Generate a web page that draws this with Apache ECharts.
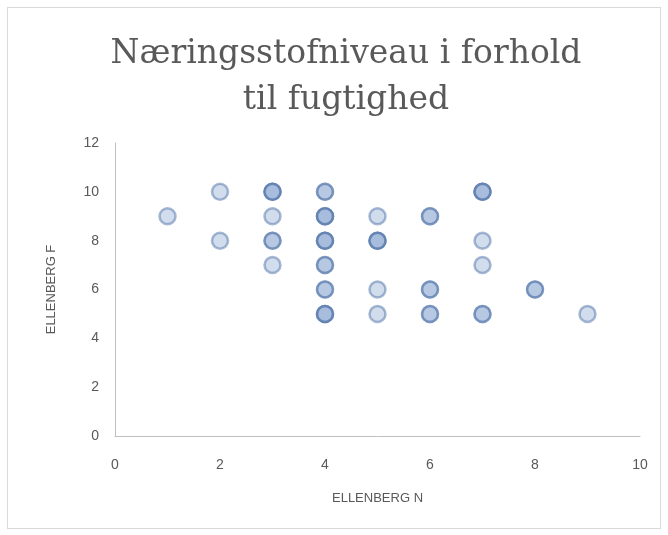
<!DOCTYPE html>
<html>
<head>
<meta charset="utf-8">
<script src="https://cdn.jsdelivr.net/npm/echarts@6/dist/echarts.min.js"></script>
<style>
  html, body { margin: 0; padding: 0; background: #fff; }
  #frame {
     position: absolute; left: 7px; top: 7px;
     width: 654px; height: 522px;
     border: 1px solid #d9d9d9;
     box-sizing: border-box;
  }
  #chart { width: 668px; height: 535px; }
</style>
</head>
<body>
<div id="frame"></div>
<div id="chart"></div>
<script>
// Ellenberg N (x) og Ellenberg F (y) - gentagne punkter ligger oven i hinanden
const ellenbergN = [2, 3, 3, 3, 4, 4, 7, 7, 7,
                    1, 3, 4, 4, 4, 5, 6, 6,
                    2, 3, 3, 4, 4, 4, 5, 5, 5, 7,
                    3, 4, 4, 7,
                    4, 4, 5, 6, 6, 8, 8,
                    4, 4, 4, 5, 6, 6, 7, 7, 9];
const ellenbergF = [10, 10, 10, 10, 10, 10, 10, 10, 10,
                    9, 9, 9, 9, 9, 9, 9, 9,
                    8, 8, 8, 8, 8, 8, 8, 8, 8, 8,
                    7, 7, 7, 7,
                    6, 6, 6, 6, 6, 6, 6,
                    5, 5, 5, 5, 5, 5, 5, 5, 5];
const xTicks = [0, 2, 4, 6, 8, 10];
const yTicks = [0, 2, 4, 6, 8, 10, 12];

const points = ellenbergN.map((x, i) => [x, ellenbergF[i]]);

const chart = echarts.init(document.getElementById('chart'));
chart.setOption({
    animation: false,
    title: {
        text: 'Næringsstofniveau i forhold\ntil fugtighed',
        left: 341,
        textAlign: 'center',
        top: 26,
        textStyle: {
            fontFamily: 'DejaVu Serif',
            fontWeight: 'normal',
            fontSize: 33,
            lineHeight: 46,
            color: '#595959'
        }
    },
    grid: { left: 115, right: 28, top: 143, bottom: 99 },
    xAxis: {
        type: 'value',
        min: xTicks[0], max: xTicks[xTicks.length - 1], interval: 2,
        name: 'ELLENBERG N',
        nameLocation: 'middle',
        nameGap: 56,
        nameTextStyle: { color: '#595959', fontSize: 13, fontFamily: 'Liberation Sans' },
        axisLine: { lineStyle: { color: '#bfbfbf', width: 1 } },
        axisTick: { show: false },
        splitLine: { show: false },
        axisLabel: { color: '#595959', fontSize: 14, margin: 22, fontFamily: 'Liberation Sans' }
    },
    yAxis: {
        type: 'value',
        min: yTicks[0], max: yTicks[yTicks.length - 1], interval: 2,
        name: 'ELLENBERG F',
        nameLocation: 'middle',
        nameGap: 57,
        nameTextStyle: { color: '#595959', fontSize: 13, fontFamily: 'Liberation Sans' },
        axisLine: { show: true, lineStyle: { color: '#bfbfbf', width: 1 } },
        axisTick: { show: false },
        splitLine: { show: false },
        axisLabel: { color: '#595959', fontSize: 14, margin: 16, fontFamily: 'Liberation Sans' }
    },
    series: [{
        type: 'scatter',
        data: points,
        symbol: 'circle',
        symbolSize: 16,
        itemStyle: {
            color: 'rgba(150,175,215,0.55)',
            borderColor: 'rgba(75,110,165,0.6)',
            borderWidth: 2.5
        }
    }]
});
</script>
</body>
</html>
